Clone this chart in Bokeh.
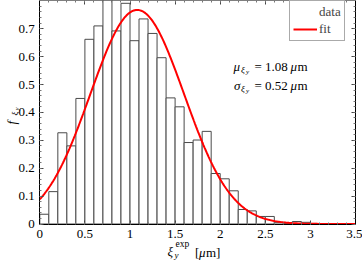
import numpy as np
from bokeh.plotting import figure
from bokeh.models import (Label, LinearAxis, FixedTicker, Range1d, Legend,
                          LegendItem)
from bokeh.embed import file_html
from bokeh.resources import INLINE

# ---------------- data ----------------
bin_edges = [0.0, 0.1, 0.2, 0.3, 0.4, 0.5, 0.6, 0.7, 0.8, 0.9, 1.0, 1.1, 1.2,
             1.3, 1.4, 1.5, 1.6, 1.7, 1.8, 1.9, 2.0, 2.1, 2.2, 2.3, 2.4, 2.5,
             2.6, 2.7, 2.8, 2.9, 3.0, 3.1, 3.2, 3.3, 3.4, 3.5]
density = [0.035, 0.116, 0.327, 0.280, 0.450, 0.662, 0.710, 0.810, 0.692,
           0.791, 0.657, 0.735, 0.683, 0.596, 0.452, 0.420, 0.292, 0.301,
           0.332, 0.181, 0.162, 0.119, 0.052, 0.047, 0.027, 0.027, 0.006,
           0.001, 0.009, 0.006, 0.002, 0.001, 0.0, 0.0, 0.0]
mu_fit = 1.08      # um
sigma_fit = 0.52   # um
x_major = [0, 0.5, 1, 1.5, 2, 2.5, 3, 3.5]
x_tick_labels = ["0", "0.5", "1", "1.5", "2", "2.5", "3", "3.5"]
y_major = [0, 0.1, 0.2, 0.3, 0.4, 0.5, 0.6, 0.7]
y_tick_labels = ["0", "0.1", "0.2", "0.3", "0.4", "0.5", "0.6", "0.7"]
x_lim = (0, 3.5)
y_lim = (0, 0.8)

fit_x = np.linspace(0, 3.5, 300)
fit_y = np.exp(-(fit_x - mu_fit) ** 2 / (2 * sigma_fit ** 2)) / (sigma_fit * np.sqrt(2 * np.pi))

FONT = "'Liberation Serif'"
W, H = 362, 262
# pixel geometry of the axes box in the canvas
X0_PX, PX_PER_X = 39.3, 90.2
Y0_PX, PX_PER_Y = 223.5, 279.0


def rx(px):
    return (px - X0_PX) / PX_PER_X


def ry(py):
    return (Y0_PX - py) / PX_PER_Y


p = figure(width=W, height=H, title=None,
           x_range=Range1d(rx(0), rx(W)), y_range=Range1d(ry(H), ry(0)),
           output_backend="svg", toolbar_location=None, min_border=0,
           x_axis_location=None, y_axis_location=None)
p.grid.visible = False
p.outline_line_color = None
p.background_fill_color = "white"
p.border_fill_color = "white"

bars = p.quad(left=bin_edges[:-1], right=bin_edges[1:], bottom=0, top=density,
              fill_color="white", line_color="#4a4a4a", line_width=1)
fit_r = p.line(fit_x, fit_y, line_color="#ff0000", line_width=2)
data_leg = p.line(x=[], y=[], line_color="black", line_width=1)

x_minor = [round(v * 0.1, 1) for v in range(36)]
y_minor = [round(v * 0.02, 2) for v in range(41)]


def make_axis(major, minor, labels, loc, bounds, show_labels=True):
    ax = LinearAxis(fixed_location=loc, bounds=bounds)
    ax.ticker = FixedTicker(ticks=major, minor_ticks=minor)
    ax.major_tick_in = 4
    ax.major_tick_out = 0
    ax.minor_tick_in = 2
    ax.minor_tick_out = 0
    ax.axis_line_color = "black"
    ax.major_tick_line_color = "#444444"
    ax.minor_tick_line_color = "#777777"
    if show_labels:
        ax.major_label_overrides = {v: l for v, l in zip(major, labels)}
        ax.major_label_text_font = FONT
        ax.major_label_text_font_size = "13px"
        ax.major_label_text_color = "black"
    else:
        ax.major_label_text_font_size = "1px"
        ax.major_label_text_color = None
        ax.major_label_standoff = 0
    return ax


bottom_ax = make_axis(x_major, x_minor, x_tick_labels, y_lim[0], x_lim)
bottom_ax.major_label_standoff = 6
p.add_layout(bottom_ax, "below")
left_ax = make_axis(y_major, y_minor, y_tick_labels, x_lim[0], y_lim)
left_ax.major_label_standoff = 5
p.add_layout(left_ax, "left")
top_ax = make_axis(x_major, x_minor, x_tick_labels, y_lim[1], x_lim, False)
p.add_layout(top_ax, "above")
right_ax = make_axis(y_major, y_minor, y_tick_labels, x_lim[1], y_lim, False)
p.add_layout(right_ax, "right")

legend = Legend(items=[LegendItem(label="data", renderers=[data_leg]),
                       LegendItem(label="fit", renderers=[fit_r])],
                location=(289, H - 41), margin=0, padding=3, spacing=1,
                glyph_width=24, glyph_height=14, label_height=14,
                label_standoff=2, label_text_font=FONT,
                label_text_font_size="13px", border_line_color="#555555",
                background_fill_color="white", background_fill_alpha=1)
p.add_layout(legend)


def lab(px, py, text, size, italic=False, angle=0.0):
    p.add_layout(Label(x=rx(px), y=ry(py), text=text, text_font=FONT,
                       text_font_size=f"{size}px",
                       text_font_style="italic" if italic else "normal",
                       text_baseline="alphabetic", text_align="left",
                       angle=angle, text_color="black"))


# mu / sigma annotation
lab(233, 66, "μ", 13, True)
lab(240.5, 69, "ξ", 9, True)
lab(245.5, 71, "y", 7, True)
lab(254, 66, "= 1.08", 13)
lab(290, 66, "μ", 13, True)
lab(297, 66, "m", 13)

lab(233.5, 85, "σ", 13, True)
lab(240.5, 88, "ξ", 9, True)
lab(245.5, 90, "y", 7, True)
lab(254, 85, "= 0.52", 13)
lab(290, 85, "μ", 13, True)
lab(297, 85, "m", 13)

# x axis label
lab(167, 251, "ξ", 13, True)
lab(174, 254, "y", 9, True)
lab(175, 243, "exp", 9.5)
lab(194.5, 252, "[", 13)
lab(198.5, 252, "μ", 13, True)
lab(205.5, 252, "m]", 13)

# y axis label (rotated)
ang = np.pi / 2
lab(11, 124, "f", 13, True, ang)
lab(14.5, 115, "ξ", 9, True, ang)
lab(16.5, 110, "y", 7, True, ang)

open("out.html", "w").write(file_html(p, INLINE))
